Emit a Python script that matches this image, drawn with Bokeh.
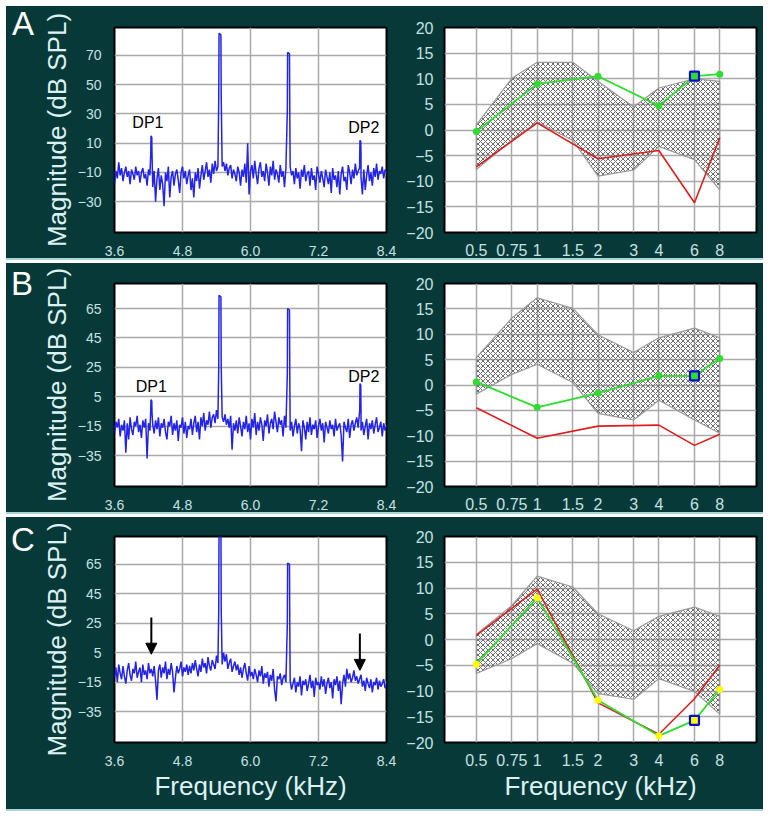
import numpy as np
from bokeh.plotting import figure
from bokeh.layouts import row, column
from bokeh.models import (Range1d, FixedTicker, NumeralTickFormatter, CustomJSTickFormatter,
                          Arrow, NormalHead, Div)
from bokeh.core.properties import value
from bokeh.embed import file_html
from bokeh.resources import INLINE

# ---------------- data ----------------
spec_f0 = 3.6          # kHz, first FFT bin shown
spec_df = 0.025        # kHz, bin spacing
spec_xticks = [3.6, 4.8, 6.0, 7.2, 8.4]
yticks_a = [-30, -10, 10, 30, 50, 70]
yticks_bc = [-35, -15, 5, 25, 45, 65]

noise_a = [-18, -9, -14, -3, -12, -7, -16, -10, -6, -13, -9, -18, -8, -11, -15, -6, -12, -9, -17, -10,
           -7, -14, -11, -19, -8, -12,
           -4,
           -20, -9, -30, -14, -7, -22, -12, -18, -33, -10, -16, -6, -27, -13, -9, -19, -11, -8, -15, -24,
           -10, -6, -14, -9, -18, -12,
           -8, -22, -14, -27, -10, -16, -7, -21, -12, -5, -15, -9, -3, -13, -8, -17, -4, -11, -2, -9, -6,
           -3,
           -1, -6, -3, -9, -4, -12, -7, -5, -14, -8, -11,
           -16, -6, -10, -19, -8, -13, -4, -17, 10, -25, -9,
           -5, -14, -2, -11, -18, -7, -3, -13, -9, -16, -4, -10, -19, -6, -12, -2, -15, -8, -11, -17,
           -5, -13, -9, -20, -7, -10,
           -4,
           -6, -12, -9, -18, -7, -14, -10, -21, -8, -13, -5, -16, -11, -9, -19, -7, -15, -12, -22, -6,
           -11, -17, -9, -14, -20, -8, -13,
           -18, -10, -24, -7, -15, -12, -20, -9, -25, -11, -6, -16, -13, -22, -5, -10, -18, -8, -14, -4,
           -12, -9,
           -7,
           -13, -25, -8, -22, -12, -5, -16, -10, -19, -7, -13, -4, -15, -9, -11, -6, -14, -8, -10]
# spikes: groups of four points (foot, top, top, foot)
peaks_a_f = [4.240, 4.244, 4.258, 4.262, 5.440, 5.445, 5.478, 5.483,
             6.650, 6.655, 6.688, 6.693, 7.928, 7.932, 7.946, 7.950]
peaks_a_db = [3, 15, 14, 3, 42, 85, 84, 42, 32, 72, 71, 32, 3, 12, 11, 3]

noise_b = [-20, -12, -16, -10, -22, -14, -18, -11, -33, -13, -24, -9, -17, -21, -12, -15, -8, -19, -14, -23,
           -11, -16, -10, -37, -13, -18,
           -8,
           -14, -20, -11, -17, -9, -22, -13, -16, -10, -19, -24, -12, -15, -8, -21, -13, -18, -11, -25, -14,
           -16, -9, -20, -12, -23, -15,
           -17, -10, -21, -13, -8, -19, -12, -24, -9, -15, -6, -18, -11, -14, -5, -16, -9, -7, -13, -4, -10,
           -6,
           -5, -9, -12, -7, -14, -10, -16, -8, -31, -13, -18,
           -11, -20, -9, -15, -22, -12, -17, -8, -19, -13, -24,
           -10, -16, -6, -21, -12, -18, -9, -14, -25, -11, -15, -7, -20, -13, -10, -17, -5, -12, -19, -9,
           -14, -11, -22, -8, -16, -12,
           -10,
           -18, -12, -22, -15, -10, -20, -13, -17, -32, -11, -16, -24, -12, -19, -9, -21, -14, -17, -11, -23,
           -15, -10, -18, -13, -26, -12, -16,
           -20, -11, -17, -14, -22, -10, -18, -15, -13, -21, -39, -12, -16, -19, -10, -23, -14, -11, -18, -13,
           -9, -16,
           -5,
           -18, -12, -21, -15, -10, -24, -13, -17, -11, -20, -14, -9, -19, -16, -12, -22, -13, -18, -15]
peaks_b_f = [4.240, 4.244, 4.258, 4.262, 5.440, 5.445, 5.478, 5.483,
             6.650, 6.655, 6.688, 6.693, 7.928, 7.932, 7.946, 7.950]
peaks_b_db = [-4, 3, 2, -6, 26, 74, 73, 26, 21, 65, 64, 21, -4, 14, 13, -4]

noise_c = [-12, -5, -15, -3, -9, -13, -4, -11, -16, -7, -2, -10, -14, -6, -9, -1, -12, -8, -5, -15,
           -3, -10, -7, -13, -2, -9,
           -6,
           -11, -4, -14, -27, -7, -3, -12, -5, -9, -1, -13, -6, -10, -2, -8, -22, -12, -4, -9, -6,
           -1, -11, -5, -8, -3, -10,
           -4, -9, -2, -7, 0, -6, -11, -3, -8, 1, -5, -2, -9, 2, -4, -7, 0, -3, -6, 3, -2,
           -4,
           2, -3, 5, -1, 4, -6, -2, 1, -8, -4, -1,
           -7, -3, -10, -5, -12, -6, -2, -9, -14, -4, -11,
           -8, -13, -6, -10, -15, -7, -11, -4, -16, -9, -12, -8, -18, -10, -14, -6, -20, -28, -11, -13,
           -9, -17, -12, -10, -15, -11,
           -12,
           -14, -20, -16, -12, -22, -15, -18, -11, -24, -14, -17, -13, -21, -16, -10, -19, -14, -25, -12, -17,
           -15, -20, -11, -18, -13, -23, -16,
           -12, -19, -15, -26, -13, -17, -11, -21, -14, -30, -16, -10, -18, -6, -13, -9, -15, -12, -7, -14,
           -11, -16,
           -13,
           -10, -18, -14, -21, -12, -16, -19, -13, -22, -15, -17, -12, -20, -14, -18, -16, -13, -19, -17]
peaks_c_f = [5.440, 5.445, 5.478, 5.483, 6.650, 6.655, 6.688, 6.693]
peaks_c_db = [35, 95, 95, 35, 25, 66, 65, 25]

dp_labels = ["DP1", "DP2"]
dp_label_x_a = [4.19, 8.0]
dp_label_y_a = [24, 21]
dp_label_x_b = [4.25, 8.0]
dp_label_y_b = [12, 19]
arrow_x_c = [4.25, 7.93]
arrow_top_c = [29, 18]
arrow_tip_c = [4, -7]

# DP-gram panels
aud_f = [0.5, 0.75, 1, 1.5, 2, 3, 4, 6, 8]
aud_yticks = [-20, -15, -10, -5, 0, 5, 10, 15, 20]
test_f = [0.5, 1, 2, 4, 6, 8]
square_f = 6

band_a_hi = [1.0, 10.1, 13.2, 13.2, 9.5, 4.5, 8.2, 10.0, 9.5]
band_a_lo = [-7.7, -2.0, 1.5, -2.0, -9.0, -7.8, -3.2, -5.8, -11.7]
green_a = [-0.3, 9.0, 10.5, 4.7, 10.5, 10.9]
red_a = [-7.2, 1.4, -5.6, -4.0, -14.2, -1.5]

band_b_hi = [5.4, 13.2, 17.2, 15.1, 9.9, 6.4, 9.3, 11.2, 9.3]
band_b_lo = [-1.8, 2.1, 4.1, 0.5, -5.6, -6.9, -3.0, -6.9, -9.5]
green_b = [0.6, -4.4, -1.6, 1.8, 1.8, 5.2]
red_b = [-4.5, -10.5, -8.1, -7.9, -11.9, -9.7]

band_c_hi = [1.0, 6.6, 12.3, 10.2, 5.0, 1.7, 4.5, 6.3, 4.5]
band_c_lo = [-6.6, -3.7, -0.8, -4.6, -10.5, -11.6, -7.6, -10.1, -14.5]
green_c = [-4.8, 8.1, -11.8, -18.7, -15.7, -9.7]
red_c = [0.8, 9.8, -12.3, -18.4, -11.5, -5.0]

panel_letters = ["A", "B", "C"]

# ---------------- style ----------------
BG = "#083939"
TICK = "#c2e2e2"
LABEL = "#dcf2f2"
GRID = "#a9a9a9"
BLUE = "#2424e6"
GREEN = "#2fdc2f"
RED = "#dc1e1e"
FONT = "Liberation Sans"

KW = 32                   # letter column width
LW, RW = 362, 363         # widths of spectrum / DP-gram figures
L_LEFT, L_RIGHT = 75, 14
R_LEFT, R_RIGHT = 44, 7


def common_style(p, tick_size, standoff):
    for ax in p.axis:
        ax.axis_line_color = None
        ax.major_tick_line_color = None
        ax.minor_tick_line_color = None
        ax.major_label_text_color = TICK
        ax.major_label_text_font = FONT
        ax.major_label_text_font_size = tick_size
        ax.major_label_standoff = standoff
        ax.axis_label_text_color = LABEL
        ax.axis_label_text_font = FONT
        ax.axis_label_text_font_style = "normal"
        ax.axis_label_text_font_size = "26px"
    p.grid.grid_line_color = GRID
    p.grid.grid_line_width = 1.5


def letter_div(letter, h, pad_top, pad_left):
    return Div(text=letter, width=KW, height=h, margin=0,
               styles={"background-color": BG, "color": "white", "font-family": FONT,
                       "font-size": "33px", "line-height": "1", "padding-top": f"{pad_top}px",
                       "padding-left": f"{pad_left}px", "box-sizing": "border-box"})


def spectrum_fig(noise, pf, pdb, y0, y1, yticks, h, top, bottom, xlabel):
    p = figure(width=LW, height=h, x_range=Range1d(3.6, 8.4), y_range=Range1d(y0, y1),
               output_backend="svg", toolbar_location=None,
               min_border_left=L_LEFT, min_border_right=L_RIGHT,
               min_border_top=top, min_border_bottom=bottom,
               background_fill_color="white", border_fill_color=BG,
               outline_line_color="black", outline_line_width=2)
    common_style(p, "14px", 7)
    p.xaxis.ticker = FixedTicker(ticks=spec_xticks)
    p.xaxis.formatter = NumeralTickFormatter(format="0.0")
    p.yaxis.ticker = FixedTicker(ticks=yticks)
    p.yaxis.axis_label = "Magnitude (dB SPL)"
    p.yaxis.axis_label_standoff = 3
    if xlabel:
        p.xaxis.axis_label = "Frequency (kHz)"
        p.xaxis.axis_label_standoff = 2
    fn = spec_f0 + spec_df * np.arange(len(noise))
    dn = np.array(noise, dtype=float)
    pf_a = np.array(pf)
    keep = np.ones(len(fn), dtype=bool)
    for g in range(0, len(pf_a), 4):          # spike replaces the bins it covers
        keep &= ~((fn >= pf_a[g]) & (fn <= pf_a[g + 3]))
    f = np.concatenate([fn[keep], pf_a])
    d = np.concatenate([dn[keep], np.array(pdb, dtype=float)])
    order = np.argsort(f, kind="stable")
    p.line(f[order], d[order], line_color=BLUE, line_width=1.5)
    return p


def dpgram_fig(hi, lo, green, red, marker_color, h, top, bottom, xlabel):
    p = figure(width=RW, height=h, x_axis_type="log", x_range=Range1d(0.348, 12.16),
               y_range=Range1d(-20, 20),
               output_backend="svg", toolbar_location=None,
               min_border_left=R_LEFT, min_border_right=R_RIGHT,
               min_border_top=top, min_border_bottom=bottom,
               background_fill_color="white", border_fill_color=BG,
               outline_line_color="black", outline_line_width=2)
    common_style(p, "16px", 5)
    p.xaxis.ticker = FixedTicker(ticks=aud_f)
    p.xaxis.formatter = CustomJSTickFormatter(code="return tick.toString();")
    p.yaxis.ticker = FixedTicker(ticks=aud_yticks)
    if xlabel:
        p.xaxis.axis_label = "Frequency (kHz)"
        p.xaxis.axis_label_standoff = 2
    px = list(aud_f) + list(aud_f[::-1])
    py = list(hi) + list(lo[::-1])
    p.patch(px, py, fill_color=None, fill_alpha=0, hatch_pattern="diagonal_cross",
            hatch_color="#6c6c6c", hatch_scale=5, hatch_weight=1,
            line_color="#999999", line_width=1.2)
    p.line(test_f, red, line_color=RED, line_width=1.6)
    p.line(test_f, green, line_color=GREEN, line_width=1.8)
    p.scatter(test_f, green, size=7, marker="circle", fill_color=marker_color, line_color=None)
    sq_y = green[test_f.index(square_f)]
    p.scatter([square_f], [sq_y], size=9, marker="square", fill_color=marker_color,
              line_color="#0a0ad0", line_width=2.2)
    return p


# Panel A
hA, tA, bA = 252, 21, 24
sA = spectrum_fig(noise_a, peaks_a_f, peaks_a_db, -51, 89, yticks_a, hA, tA, bA, False)
sA.text(dp_label_x_a, dp_label_y_a, text=dp_labels, text_font=value(FONT), text_font_size="16px",
        text_align="center", text_baseline="middle", text_color="black")
dA = dpgram_fig(band_a_hi, band_a_lo, green_a, red_a, GREEN, hA, tA, bA + 1, False)

# Panel B
hB, tB, bB = 249, 20, 23
sB = spectrum_fig(noise_b, peaks_b_f, peaks_b_db, -56, 82, yticks_bc, hB, tB, bB, False)
sB.text(dp_label_x_b, dp_label_y_b, text=dp_labels, text_font=value(FONT), text_font_size="16px",
        text_align="center", text_baseline="middle", text_color="black")
dB = dpgram_fig(band_b_hi, band_b_lo, green_b, red_b, GREEN, hB, tB, bB, False)

# Panel C
hC, tC, bC = 292, 19, 65
sC = spectrum_fig(noise_c, peaks_c_f, peaks_c_db, -56, 84, yticks_bc, hC, tC, bC, True)
for ax_, at_, ap_ in zip(arrow_x_c, arrow_top_c, arrow_tip_c):
    sC.add_layout(Arrow(end=NormalHead(size=11, fill_color="black", line_color="black"),
                        x_start=ax_, y_start=at_, x_end=ax_, y_end=ap_,
                        line_color="black", line_width=2))
dC = dpgram_fig(band_c_hi, band_c_lo, green_c, red_c, "#ffff00", hC, tC, bC + 2, True)

TOTAL_W = KW + LW + RW
ROW_STYLE = {"background-color": BG}


def separator():
    return [Div(text="", width=TOTAL_W, height=2, margin=0,
                styles={"background-color": "#a8d6d6"}),
            Div(text="", width=TOTAL_W, height=3, margin=0,
                styles={"background-color": "white"})]


layout = column(row(letter_div(panel_letters[0], hA, 1, 6), sA, dA, styles=ROW_STYLE), *separator(),
                row(letter_div(panel_letters[1], hB, 4, 5), sB, dB, styles=ROW_STYLE), *separator(),
                row(letter_div(panel_letters[2], hC, 6, 5), sC, dC, styles=ROW_STYLE),
                Div(text="", width=TOTAL_W, height=2, margin=0, styles={"background-color": "#a8d6d6"}),
                margin=(6, 0, 0, 6))

open("out.html", "w").write(file_html(layout, INLINE))
